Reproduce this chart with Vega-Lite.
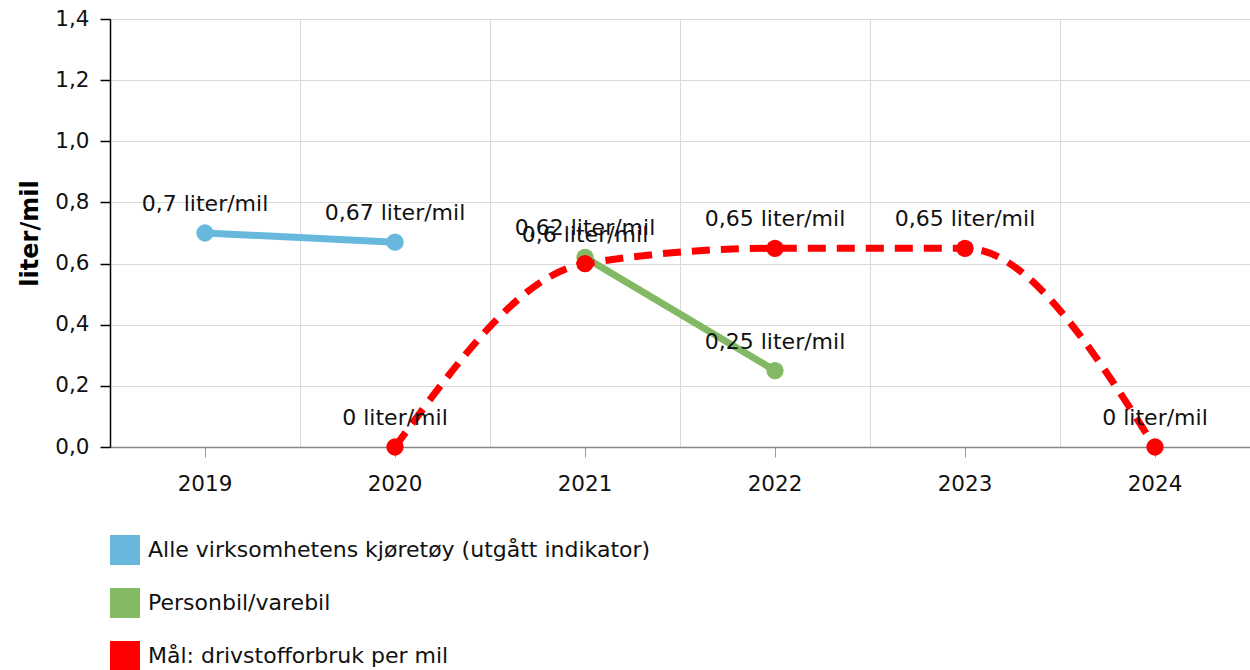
{
  "$schema": "https://vega.github.io/schema/vega-lite/v6.json",
  "width": 1140,
  "height": 428,
  "autosize": {"type": "none"},
  "padding": {"left": 110, "top": 19, "right": 0, "bottom": 223},
  "config": {
    "locale": {"number": {"decimal": ",", "thousands": " ", "grouping": [3], "currency": ["", ""]}},
    "font": "DejaVu Sans",
    "view": {"stroke": null},
    "axis": {"labelFontSize": 21.5, "labelColor": "#111", "titleFontSize": 24, "titleColor": "#000"}
  },
  "data": {
    "values": [
      {"year": "2019", "value": 0.70, "series": "Alle virksomhetens kjøretøy (utgått indikator)", "label": "0,7 liter/mil"},
      {"year": "2020", "value": 0.67, "series": "Alle virksomhetens kjøretøy (utgått indikator)", "label": "0,67 liter/mil"},
      {"year": "2021", "value": 0.62, "series": "Personbil/varebil", "label": "0,62 liter/mil"},
      {"year": "2022", "value": 0.25, "series": "Personbil/varebil", "label": "0,25 liter/mil"},
      {"year": "2020", "value": 0, "series": "Mål: drivstofforbruk per mil", "label": "0 liter/mil"},
      {"year": "2021", "value": 0.6, "series": "Mål: drivstofforbruk per mil", "label": "0,6 liter/mil"},
      {"year": "2022", "value": 0.65, "series": "Mål: drivstofforbruk per mil", "label": "0,65 liter/mil"},
      {"year": "2023", "value": 0.65, "series": "Mål: drivstofforbruk per mil", "label": "0,65 liter/mil"},
      {"year": "2024", "value": 0, "series": "Mål: drivstofforbruk per mil", "label": "0 liter/mil"}
    ]
  },
  "encoding": {
    "y": {
      "field": "value",
      "type": "quantitative",
      "scale": {"domain": [0, 1.4], "nice": false, "zero": true},
      "axis": {
        "title": "liter/mil",
        "titleFontWeight": "bold",
        "titlePadding": 12,
        "values": [0, 0.2, 0.4, 0.6, 0.8, 1.0, 1.2, 1.4],
        "format": ".1f",
        "grid": true,
        "gridColor": "#d9d9d9",
        "gridWidth": 1,
        "domainColor": "#000",
        "domainWidth": 1.5,
        "tickColor": "#000",
        "tickSize": 10,
        "tickWidth": 1.5,
        "labelPadding": 11
      }
    },
    "color": {
      "field": "series",
      "type": "nominal",
      "scale": {
        "domain": ["Alle virksomhetens kjøretøy (utgått indikator)", "Personbil/varebil", "Mål: drivstofforbruk per mil"],
        "range": ["#68b7dc", "#83b964", "#ff0000"]
      },
      "legend": {
        "orient": "none",
        "legendX": 0,
        "legendY": 516,
        "direction": "vertical",
        "title": null,
        "symbolType": "square",
        "symbolSize": 900,
        "symbolStrokeWidth": 0,
        "labelFontSize": 22,
        "labelColor": "#111",
        "labelOffset": 8,
        "rowPadding": 23,
        "labelLimit": 800,
        "padding": 0,
        "encode": {"symbols": {"update": {"fill": {"scale": "color", "field": "value"}, "strokeWidth": {"value": 0}, "opacity": {"value": 1}}}}
      }
    }
  },
  "layer": [
    {
      "transform": [{"filter": "datum.series != 'Mål: drivstofforbruk per mil'"}],
      "mark": {"type": "line", "strokeWidth": 7},
      "encoding": {
        "x": {
          "field": "year", "type": "ordinal", "bandPosition": 0.5,
          "scale": {"type": "band", "paddingInner": 0, "paddingOuter": 0, "domain": ["2019", "2020", "2021", "2022", "2023", "2024"]},
          "axis": {"orient": "bottom", "grid": true, "bandPosition": 0, "gridColor": "#d9d9d9", "gridWidth": 1, "labels": false, "ticks": false, "domain": false, "title": null}
        }
      }
    },
    {
      "transform": [{"filter": "datum.series == 'Mål: drivstofforbruk per mil'"}],
      "mark": {"type": "line", "strokeWidth": 7, "strokeDash": [18, 11], "interpolate": "monotone"},
      "encoding": {
        "x": {
          "field": "year", "type": "ordinal", "bandPosition": 0.5,
          "axis": {"orient": "bottom", "grid": false, "bandPosition": 0.5, "labelAngle": 0, "labelPadding": 16, "tickSize": 10, "tickColor": "#999", "domainColor": "#888", "domainWidth": 1.5, "title": null}
        }
      }
    },
    {
      "mark": {"type": "point", "filled": true, "opacity": 1, "size": 300},
      "encoding": {
        "x": {"field": "year", "type": "ordinal", "bandPosition": 0.5, "axis": null}
      }
    },
    {
      "mark": {"type": "text", "fontSize": 22, "dy": -29, "baseline": "middle", "align": "center", "color": "#111"},
      "encoding": {
        "x": {"field": "year", "type": "ordinal", "bandPosition": 0.5, "axis": null},
        "text": {"field": "label"},
        "color": {"value": "#111"}
      }
    }
  ],
  "resolve": {"axis": {"x": "independent"}}
}
